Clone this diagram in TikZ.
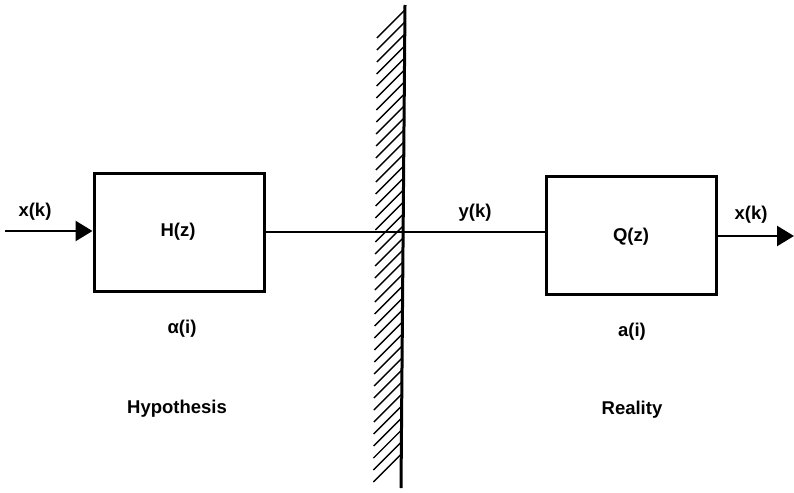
\documentclass[tikz,border=0pt]{standalone}
\usepackage{fontspec}
\setmainfont{Liberation Sans}
\usetikzlibrary{arrows.meta}
\begin{document}
\begin{tikzpicture}[x=1pt,y=-1pt,
  blk/.style={draw,line width=3pt,minimum width=170pt,minimum height=118pt,inner sep=0pt},
  lbl/.style={font=\fontsize{18.5}{20}\selectfont\bfseries,inner sep=0pt},
  sig/.style={line width=2.5pt},
  tip/.style={-{Triangle[length=17pt,width=20pt]}}]
\useasboundingbox (0,0) rectangle (794,492);
% blocks
\node[blk] (H) at (179,232) {};
\node[blk] (Q) at (631,235) {};
\node[lbl] (Hz) at (178,232) {H(z)};
\node[lbl] (Qz) at (631,237) {Q(z)};
% wall
\coordinate (wt) at (405,5);
\coordinate (wb) at (401,488);
\draw[line width=3pt] (wt) -- (wb);
\foreach \y in {10,22,...,460}{
  \pgfmathsetmacro{\xw}{405-4*(\y-5)/483}
  \draw[line width=1.4pt] (\xw,\y) -- ++(-28,28);
}
% signals
\coordinate (in) at (5,231);
\coordinate (out) at (794,236);
\draw[sig,tip] (in) -- (H.west |- in);
\draw[sig] (H.east |- 0,232) -- (Q.west |- 0,232);
\draw[sig,tip] (Q.east |- out) -- (out);
% labels
\node[lbl] (xin) at (35,212) {x(k)};
\node[lbl] (yk) at (475,213) {y(k)};
\node[lbl] (xout) at (751,215) {x(k)};
\node[lbl] (al) at (182,329) {α(i)};
\node[lbl] (ai) at (632,332) {a(i)};
\node[lbl] (hyp) at (177,409) {Hypothesis};
\node[lbl] (rea) at (632,410) {Reality};
\end{tikzpicture}
\end{document}
